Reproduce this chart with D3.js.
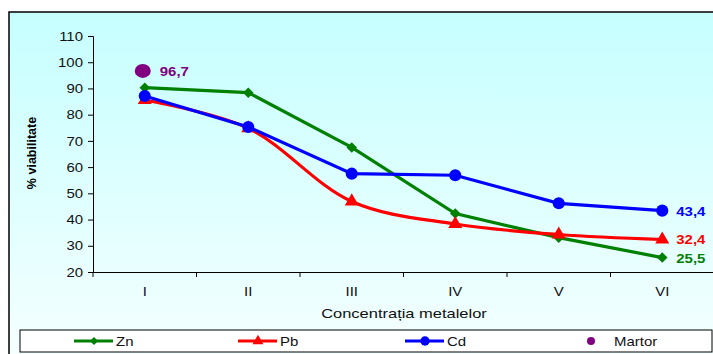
<!DOCTYPE html>
<html>
<head>
<meta charset="utf-8">
<script src="https://cdn.jsdelivr.net/npm/d3@7"></script>
<style>
  body { margin: 0; background: #fff; }
  svg { display: block; font-family: Arial, "Liberation Sans", sans-serif; }
</style>
</head>
<body>
<svg id="chart" width="713" height="354"></svg>
<script>
// data
const categories = ['I', 'II', 'III', 'IV', 'V', 'VI'];
const znValues = [90.3, 88.4, 67.5, 42.3, 33.1, 25.5];
const pbValues = [85.6, 74.8, 46.9, 38.3, 34.3, 32.4];
const cdValues = [87.1, 75.3, 57.5, 56.9, 46.2, 43.4];
const martorValue = 96.7;
const yTicks = [20, 30, 40, 50, 60, 70, 80, 90, 100, 110];

const w = 713, h = 354;
const svg = d3.select('#chart');

// the original text is wider than Arial, stretch it a bit
function stretch(sel, k) {
  sel.each(function() {
    const len = this.getComputedTextLength();
    d3.select(this).attr('textLength', len * k).attr('lengthAdjust', 'spacingAndGlyphs');
  });
}

// background frame with gradient
const defs = svg.append('defs');
const grad = defs.append('linearGradient')
  .attr('id', 'bg').attr('x1', 0).attr('y1', 0).attr('x2', 0).attr('y2', 1);
grad.append('stop').attr('offset', '0%').attr('stop-color', '#c6ffff');
grad.append('stop').attr('offset', '100%').attr('stop-color', '#f7ffff');

svg.append('rect')
  .attr('x', 9).attr('y', 12)
  .attr('width', 720).attr('height', 360)
  .attr('fill', 'url(#bg)')
  .attr('stroke', '#000').attr('stroke-width', 1.5);

// scales
const x = d3.scaleBand().domain(categories).range([93, 714]);
const y = d3.scaleLinear().domain([20, 110]).range([272, 36]);
const cx = d => x(d) + x.bandwidth() / 2;

// y axis
const yAxis = svg.append('g')
  .attr('transform', 'translate(93,0)')
  .call(d3.axisLeft(y).tickValues(yTicks).tickSize(5).tickPadding(5));
yAxis.select('.domain').attr('stroke', '#000').attr('stroke-width', 1);
yAxis.selectAll('text').style('font-size', '13px').attr('fill', '#111').call(stretch, 1.15);

// x axis
const xAxis = svg.append('g')
  .attr('transform', 'translate(0,272)')
  .call(d3.axisBottom(x).tickSize(0).tickPadding(15));
xAxis.select('.domain').attr('stroke', '#000').attr('stroke-width', 1);
xAxis.selectAll('text').style('font-size', '13px').attr('fill', '#111').call(stretch, 1.15);
// tick marks between categories
xAxis.selectAll('.sep')
  .data(categories.map((c, i) => i))
  .enter().append('line')
  .attr('x1', i => x(categories[i])).attr('x2', i => x(categories[i]))
  .attr('y1', 0).attr('y2', 5)
  .attr('stroke', '#000');

// titles
svg.append('text')
  .attr('x', 404).attr('y', 318)
  .attr('text-anchor', 'middle')
  .style('font-size', '13.5px').attr('fill', '#111')
  .text('Concentrația metalelor')
  .call(stretch, 1.22);

svg.append('text')
  .attr('transform', 'translate(36,153) rotate(-90)')
  .attr('text-anchor', 'middle')
  .style('font-size', '12.5px').style('font-weight', 'bold')
  .text('% viabilitate')
  .call(stretch, 1.0);

// series
const series = [
  { name: 'Zn', values: znValues, color: '#008000', symbol: d3.symbolSquare, rot: 45, curve: d3.curveLinear, size: 55 },
  { name: 'Pb', values: pbValues, color: '#ff0000', symbol: d3.symbolTriangle, rot: 0, curve: d3.curveCatmullRom, size: 85 },
  { name: 'Cd', values: cdValues, color: '#0000ff', symbol: d3.symbolCircle, rot: 0, curve: d3.curveLinear, size: 115 }
];

const line = d3.line().x((d, i) => cx(categories[i])).y(d => y(d));

series.forEach(s => {
  svg.append('path')
    .datum(s.values)
    .attr('fill', 'none')
    .attr('stroke', s.color)
    .attr('stroke-width', 3.2)
    .attr('d', line.curve(s.curve));
  svg.selectAll(null)
    .data(s.values)
    .enter().append('path')
    .attr('transform', (d, i) => `translate(${cx(categories[i])},${y(d)}) rotate(${s.rot})`)
    .attr('d', d3.symbol().type(s.symbol).size(s.size))
    .attr('fill', s.color);
  const last = s.values[s.values.length - 1];
  svg.append('text')
    .attr('x', cx(categories[categories.length - 1]) + 14)
    .attr('y', y(last) + 5)
    .style('font-size', '13px').style('font-weight', 'bold')
    .attr('fill', s.color)
    .text(String(last).replace('.', ','))
    .call(stretch, 1.15);
});

// Martor
svg.append('ellipse')
  .attr('cx', cx('I') - 2).attr('cy', y(martorValue))
  .attr('rx', 8).attr('ry', 7)
  .attr('fill', '#800080');
svg.append('text')
  .attr('x', cx('I') + 15).attr('y', y(martorValue) + 5)
  .style('font-size', '13px').style('font-weight', 'bold')
  .attr('fill', '#800080')
  .text(String(martorValue).replace('.', ','))
  .call(stretch, 1.15);

// legend
const legend = svg.append('g');
legend.append('rect')
  .attr('x', 20).attr('y', 330).attr('width', 692).attr('height', 22)
  .attr('fill', '#fff').attr('stroke', '#000').attr('stroke-width', 1);

const legendX = [74, 238, 405];
series.forEach((s, i) => {
  const lx = legendX[i];
  legend.append('line')
    .attr('x1', lx).attr('x2', lx + 39).attr('y1', 341).attr('y2', 341)
    .attr('stroke', s.color).attr('stroke-width', 3);
  legend.append('path')
    .attr('transform', `translate(${lx + 20},341) rotate(${s.rot})`)
    .attr('d', d3.symbol().type(s.symbol).size(s.size * 0.6))
    .attr('fill', s.color);
  legend.append('text')
    .attr('x', lx + 42).attr('y', 346)
    .style('font-size', '13px').attr('fill', '#111')
    .text(s.name)
    .call(stretch, 1.15);
});
legend.append('circle')
  .attr('cx', 591).attr('cy', 341).attr('r', 4)
  .attr('fill', '#800080');
legend.append('text')
  .attr('x', 614).attr('y', 346)
  .style('font-size', '13px').attr('fill', '#111')
  .text('Martor')
  .call(stretch, 1.15);
</script>
</body>
</html>
